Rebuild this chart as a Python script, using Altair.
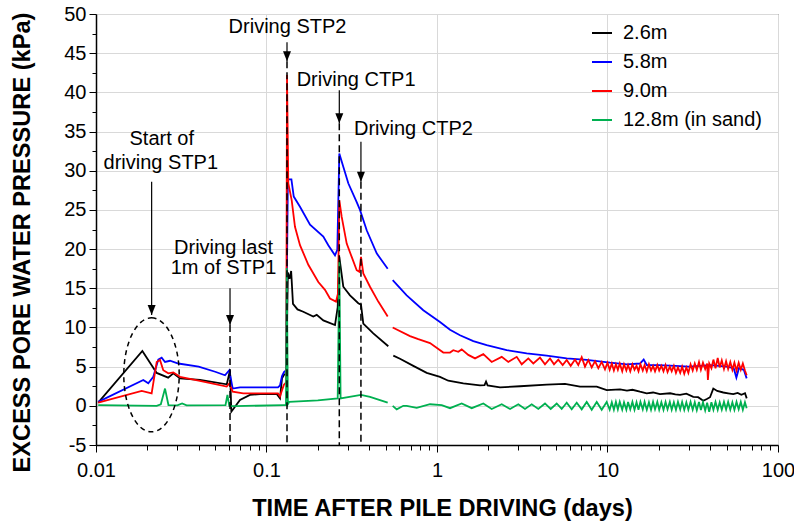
import altair as alt
import pandas as pd

FONT = "Liberation Sans"

series_names = ["2.6m", "5.8m", "9.0m", "12.8m (in sand)"]
series_colors = ["#000000", "#0000FF", "#FF0000", "#00B050"]

# ---------------- series data: (days, kPa) ----------------
black_a = [(0.0103, 0.4), (0.0187, 7.0), (0.0227, 4.2), (0.0265, 3.6), (0.0284, 4.15),
           (0.0311, 3.5), (0.0407, 3.3), (0.0585, 2.75), (0.0611, 4.55), (0.0622, -0.75),
           (0.0699, 0.75), (0.0800, 1.4), (0.0916, 1.5), (0.1148, 1.5), (0.1200, 0.95),
           (0.1233, 3.5), (0.1270, 4.0), (0.1305, 4.0), (0.1335, 17.0), (0.1365, 16.2),
           (0.1395, 17.2), (0.1430, 13.0), (0.1520, 12.3), (0.1643, 12.0), (0.1881, 11.4),
           (0.1970, 11.6), (0.2154, 10.9), (0.2522, 10.3), (0.2616, 12.6), (0.2673, 19.0),
           (0.2821, 15.2), (0.3088, 14.1), (0.3454, 13.1), (0.3584, 12.9), (0.3696, 10.5),
           (0.4230, 9.25), (0.5180, 7.6)]
black_b = [(0.5543, 6.4), (0.6067, 6.0), (0.7262, 5.1), (0.8702, 4.2), (1.041, 3.7),
           (1.165, 3.2), (1.427, 2.87), (1.787, 2.6), (1.900, 2.65), (1.939, 3.1),
           (1.980, 2.6), (2.342, 2.35), (3.068, 2.5), (4.400, 2.7), (5.633, 2.8),
           (6.899, 2.45), (8.645, 2.45), (9.892, 2.0), (11.84, 2.1), (13.0, 1.95),
           (14.0, 2.05), (15.5, 1.8), (16.98, 1.6), (18.5, 1.7), (20.3, 1.5), (23.3, 1.6),
           (25.0, 1.45), (26.62, 1.4), (29.0, 1.55), (31.85, 1.15), (34.0, 1.1),
           (36.47, 0.65), (38.5, 0.9), (39.93, 1.1), (41.74, 2.2), (44.0, 1.9),
           (47.77, 1.7), (51.0, 1.6), (54.68, 1.5), (58.0, 1.65), (61.0, 1.4),
           (64.06, 1.6), (65.54, 0.95)]

blue_a = [(0.0103, 0.5), (0.01894, 3.3), (0.02026, 2.87), (0.02168, 3.7), (0.02319, 5.9),
          (0.02428, 6.15), (0.0254, 5.6), (0.02716, 5.75), (0.03039, 5.4), (0.0400, 5.0),
          (0.0500, 4.35), (0.0571, 3.9), (0.0605, 4.55), (0.06336, 2.2), (0.06993, 2.35),
          (0.1168, 2.35), (0.1200, 2.6), (0.1233, 3.8), (0.1266, 4.3), (0.1300, 4.5),
          (0.1335, 28.9), (0.1400, 28.9), (0.1445, 26.7), (0.1572, 25.4), (0.1800, 23.1),
          (0.2154, 21.6), (0.2304, 20.5), (0.2522, 19.2), (0.2602, 19.9), (0.2673, 32.2),
          (0.2821, 30.5), (0.3018, 28.4), (0.3381, 26.0), (0.3534, 25.0), (0.3870, 22.4),
          (0.4429, 19.45), (0.5139, 17.5)]
blue_b = [(0.5497, 16.05), (0.6642, 14.1), (0.831, 12.2), (1.041, 10.7), (1.192, 9.7),
          (1.364, 9.0), (1.633, 8.25), (1.956, 7.75), (2.564, 7.1), (3.358, 6.7),
          (4.40, 6.4), (5.764, 6.05), (7.551, 5.85), (10.34, 5.5), (13.0, 5.3),
          (15.5, 5.4), (16.3, 5.9), (17.0, 5.2), (20.0, 5.2), (25.0, 5.1), (30.0, 5.0),
          (35.0, 5.1), (40.0, 5.2), (45.0, 5.1), (50.0, 5.0), (55.0, 4.8), (57.0, 3.6),
          (59.0, 4.8), (63.0, 4.6), (65.5, 3.5)]

red_a = [(0.0103, 0.4), (0.01854, 1.9), (0.0212, 1.6), (0.0227, 5.6), (0.02373, 5.85),
         (0.02481, 4.55), (0.02655, 4.15), (0.0284, 4.27), (0.0311, 3.7), (0.0400, 3.2),
         (0.05843, 2.45), (0.0605, 2.85), (0.06336, 1.8), (0.0731, 1.6), (0.1168, 1.6),
         (0.1200, 1.2), (0.1233, 2.0), (0.1266, 2.7), (0.1305, 3.0), (0.1319, 42.2),
         (0.1342, 28.4), (0.1405, 26.25), (0.1469, 22.85), (0.1572, 20.5), (0.1759, 18.0),
         (0.2013, 15.8), (0.2203, 14.8), (0.2357, 13.7), (0.2556, 13.3), (0.2626, 14.35),
         (0.2673, 26.25), (0.2761, 24.1), (0.2954, 20.7), (0.3160, 19.0), (0.3381, 17.3),
         (0.3502, 17.1), (0.3584, 19.0), (0.3696, 16.9), (0.4046, 15.2), (0.4524, 13.3),
         (0.5139, 11.4)]
red_b = [(0.5497, 10.0), (0.6946, 8.9), (0.7768, 8.5), (0.9099, 8.0), (1.089, 6.8),
         (1.192, 6.8), (1.246, 7.1), (1.333, 6.9), (1.396, 7.2), (1.526, 6.5),
         (1.671, 6.05), (1.869, 6.6), (2.093, 5.6), (2.396, 6.25), (2.62, 5.6),
         (2.935, 6.25), (3.14, 5.3), (3.432, 6.05), (3.672, 5.4), (4.019, 6.15),
         (4.299, 5.3), (4.6, 6.05), (4.856, 5.3), (5.145, 5.9), (5.46, 5.2),
         (5.764, 5.85), (6.084, 5.1), (6.448, 5.9), (6.74, 5.2), (7.058, 6.2),
         (7.38, 5.0), (7.716, 5.85), (8.08, 4.9), (8.45, 5.7), (8.836, 4.8),
         (9.247, 5.6), (9.667, 4.65), (10.0, 5.5), (10.3, 4.6), (10.6, 5.4),
         (10.9, 4.5), (11.2, 5.3), (11.5, 4.6), (11.8, 5.4), (12.2, 4.4), (12.5, 5.3),
         (12.9, 4.5), (13.2, 5.2), (13.6, 4.4), (14.0, 5.3), (14.4, 4.6), (14.8, 5.1),
         (15.2, 4.4), (15.6, 5.3), (16.1, 4.5), (16.5, 5.2), (17.0, 4.4), (17.5, 5.3),
         (18.0, 4.5), (18.5, 5.1), (19.0, 4.4), (19.6, 5.2), (20.1, 4.5), (20.7, 5.1),
         (21.3, 4.4), (21.9, 5.2), (22.5, 4.3), (23.2, 5.0), (23.8, 4.4), (24.5, 5.1),
         (25.2, 4.2), (25.9, 4.9), (26.7, 4.2), (27.4, 5.0), (28.2, 4.1), (29.0, 4.9),
         (29.8, 4.2), (30.7, 5.3), (31.6, 4.5), (32.5, 5.4), (33.4, 4.6), (34.4, 5.6),
         (35.3, 4.6), (36.3, 5.5), (37.4, 4.7), (38.4, 5.4), (38.8, 3.3), (39.5, 5.4),
         (40.7, 4.8), (41.8, 5.9), (43.0, 4.8), (44.3, 6.1), (45.5, 4.9), (46.8, 5.8),
         (48.2, 4.7), (49.6, 5.7), (51.0, 4.7), (52.5, 5.6), (54.0, 4.6), (55.5, 5.5),
         (57.1, 4.5), (58.8, 5.5), (60.5, 4.6), (62.2, 5.4), (64.0, 4.5), (65.5, 3.9)]

green_a = [(0.0103, 0.1), (0.0227, 0.0), (0.0240, 0.2), (0.0254, 2.2), (0.0266, 0.1),
           (0.0300, 0.05), (0.0320, 0.3), (0.0340, 0.05), (0.0575, 0.1), (0.0590, 1.4),
           (0.0605, 0.0), (0.0650, -0.05), (0.1266, 0.1), (0.1301, 0.1), (0.1315, 17.6),
           (0.1335, 0.2), (0.1360, 0.5), (0.2000, 0.7), (0.2616, 0.95), (0.2673, 18.4),
           (0.2720, 0.95), (0.3584, 1.4), (0.4046, 1.15), (0.5139, 0.4)]
green_b = [(0.5497, 0.0), (0.5804, -0.45), (0.6342, 0.0), (0.6642, 0.0), (0.7603, -0.25),
           (0.9099, 0.2), (1.066, 0.1), (1.192, -0.3), (1.396, 0.3), (1.598, -0.3),
           (1.869, 0.3), (2.093, -0.4), (2.396, 0.2), (2.681, -0.4), (2.999, 0.2),
           (3.282, -0.4), (3.593, 0.2), (3.928, -0.4), (4.299, 0.3), (4.644, -0.4),
           (5.035, 0.3), (5.387, -0.4), (5.764, 0.4), (6.166, -0.45), (6.598, 0.4),
           (7.058, -0.45), (7.551, 0.5), (8.08, -0.5), (8.645, 0.5), (9.247, -0.5),
           (9.892, 0.5), (10.3, -0.5), (10.6, 0.45), (10.9, -0.5), (11.2, 0.5),
           (11.5, -0.45), (11.8, 0.5), (12.2, -0.5), (12.5, 0.45), (12.9, -0.5),
           (13.2, 0.5), (13.6, -0.45), (14.0, 0.5), (14.4, -0.5), (14.8, 0.45),
           (15.2, -0.5), (15.6, 0.5), (16.1, -0.45), (16.5, 0.5), (17.0, -0.5),
           (17.5, 0.45), (18.0, -0.5), (18.5, 0.5), (19.0, -0.45), (19.6, 0.5),
           (20.1, -0.5), (20.7, 0.45), (21.3, -0.5), (21.9, 0.5), (22.5, -0.45),
           (23.2, 0.5), (23.8, -0.5), (24.5, 0.45), (25.2, -0.5), (25.9, 0.5),
           (26.7, -0.45), (27.4, 0.5), (28.2, -0.5), (29.0, 0.45), (29.8, -0.5),
           (30.7, 0.5), (31.6, -0.5), (32.5, 0.45), (33.4, -0.55), (34.4, 0.5),
           (35.3, -0.55), (36.3, 0.45), (37.4, -0.6), (38.4, 0.4), (39.5, -0.75),
           (40.7, 0.45), (41.8, -0.5), (43.0, 0.5), (44.3, -0.5), (45.5, 0.45),
           (46.8, -0.5), (48.2, 0.5), (49.6, -0.45), (51.0, 0.5), (52.5, -0.5),
           (54.0, 0.45), (55.5, -0.5), (57.1, 0.5), (58.8, -0.45), (60.5, 0.5),
           (62.2, -0.5), (64.0, 0.45), (65.5, -0.3)]

# ---------------- annotations ----------------
# dashed event lines: (days, top kPa)
event_lines = [(0.0611, 10.3), (0.1319, 43.98), (0.2673, 36.07), (0.358, 28.58)]
# arrows: (days, shaft top kPa, tip kPa)
arrows = [(0.0212, 28.58, 11.6), (0.0611, 15.0, 10.3), (0.1319, 46.4, 43.98),
          (0.2673, 40.28, 36.07), (0.358, 33.69, 28.58)]
labels_center = [("Driving STP2", 0.1328, 48.35), ("Start of", 0.0243, 34.0),
                 ("driving STP1", 0.0240, 30.95), ("Driving last", 0.05595, 20.13),
                 ("1m of STP1", 0.05595, 17.58)]
labels_left = [("Driving CTP1", 0.1503, 41.56), ("Driving CTP2", 0.3259, 35.3)]
ellipse_center = [(0.02116, 3.95)]

x_major = [0.01, 0.1, 1, 10, 100]
x_minor_mult = [2, 3, 4, 5, 6, 7, 8, 9]
x_ticks = sorted(x_major + [round(d * m, 6) for d in x_major[:-1] for m in x_minor_mult])
y_ticks = [-5, -2.5, 0, 2.5, 5, 7.5, 10, 12.5, 15, 17.5, 20, 22.5, 25, 27.5, 30,
           32.5, 35, 37.5, 40, 42.5, 45, 47.5, 50]

# ---------------- tables ----------------
rows = []
for name, segs in [("2.6m", [black_a, black_b]), ("5.8m", [blue_a, blue_b]),
                   ("9.0m", [red_a, red_b]), ("12.8m (in sand)", [green_a, green_b])]:
    for si, seg in enumerate(segs):
        for t, u in seg:
            rows.append({"series": name, "seg": si, "t": t, "u": u})
df = pd.DataFrame(rows)

vl_df = pd.DataFrame([{"t": t, "u": top, "u2": -5} for t, top in event_lines])
shaft_df = pd.DataFrame([{"t": t, "u": top, "u2": tip} for t, top, tip in arrows])
head_df = pd.DataFrame([{"t": t, "u": tip} for t, top, tip in arrows])
lc_df = pd.DataFrame([{"label": s, "t": t, "u": u} for s, t, u in labels_center])
ll_df = pd.DataFrame([{"label": s, "t": t, "u": u} for s, t, u in labels_left])
el_df = pd.DataFrame([{"t": t, "u": u} for t, u in ellipse_center])

# ---------------- encodings ----------------
is_decade = "abs(log(datum.value)/LN10 - round(log(datum.value)/LN10)) < 0.001"
x_axis = alt.Axis(
    values=x_ticks, title="TIME AFTER PILE DRIVING (days)",
    labelExpr=f"{is_decade} ? format(datum.value, '~g') : ''",
    gridOpacity={"condition": {"test": is_decade, "value": 1}, "value": 0},
    tickSize={"condition": {"test": is_decade, "value": 7}, "value": 5},
    labelPadding=8, labelOverlap=False, labelFlush=False,
    titleX=346, titleY=63, titleBaseline="middle", titleAlign="center",
)
is_major_y = "datum.value % 5 === 0"
y_axis = alt.Axis(
    values=y_ticks, title="EXCESS PORE WATER PRESSURE (kPa)",
    labelExpr=f"{is_major_y} ? (datum.value < 0 ? '-' + format(-datum.value, 'd') : format(datum.value, 'd')) : ''",
    gridOpacity={"condition": {"test": is_major_y, "value": 1}, "value": 0},
    tickSize={"condition": {"test": is_major_y, "value": 7}, "value": 4},
    labelPadding=3, labelOverlap=False, labelFlush=False,
    titleX=-74, titleY=228, titleAngle=270, titleBaseline="middle", titleAlign="center",
)
X = alt.X("t:Q", scale=alt.Scale(type="log", domain=[0.01, 100], nice=False), axis=x_axis)
Y = alt.Y("u:Q", scale=alt.Scale(domain=[-5, 50], nice=False), axis=y_axis)

legend = alt.Legend(title=None, orient="none", legendX=495, legendY=8,
                    symbolType="stroke", symbolSize=400, symbolStrokeWidth=2,
                    labelFont=FONT, labelFontSize=20, labelColor="black",
                    labelOffset=10, rowPadding=8, padding=0, labelLimit=400)
color = alt.Color("series:N", scale=alt.Scale(domain=series_names, range=series_colors),
                  legend=legend)

layers = []
for name in series_names:
    layers.append(
        alt.Chart(df).transform_filter(alt.datum.series == name)
        .mark_line(strokeWidth=1.8)
        .encode(x=X, y=Y, color=color, detail="seg:N")
    )

ARROW = "M -0.4,-1 L 0.4,-1 L 0,0 Z"
ELLIPSE = ("M 0,-1 C 0.2684,-1 0.486,-0.5523 0.486,0 C 0.486,0.5523 0.2684,1 0,1 "
           "C -0.2684,1 -0.486,0.5523 -0.486,0 C -0.486,-0.5523 -0.2684,-1 0,-1 Z")

layers.append(alt.Chart(vl_df).mark_rule(color="black", strokeWidth=1.5, strokeDash=[7, 4])
              .encode(x=X, y=Y, y2="u2:Q"))
layers.append(alt.Chart(shaft_df).mark_rule(color="black", strokeWidth=1.2)
              .encode(x=X, y=Y, y2="u2:Q"))
layers.append(alt.Chart(head_df).mark_point(shape=ARROW, size=400, filled=True,
                                            color="black", opacity=1, strokeWidth=0)
              .encode(x=X, y=Y))
layers.append(alt.Chart(el_df).mark_point(shape=ELLIPSE, size=12996, filled=False,
                                          color="black", opacity=1, strokeWidth=1.5,
                                          strokeDash=[5, 4])
              .encode(x=X, y=Y))
layers.append(alt.Chart(lc_df).mark_text(font=FONT, fontSize=20, align="center",
                                         baseline="middle", color="black")
              .encode(x=X, y=Y, text="label:N"))
layers.append(alt.Chart(ll_df).mark_text(font=FONT, fontSize=20, align="left",
                                         baseline="middle", color="black")
              .encode(x=X, y=Y, text="label:N"))

chart = (
    alt.layer(*layers)
    .properties(width=682, height=431,
                padding={"left": 96, "top": 14, "right": 16, "bottom": 77},
                autosize=alt.AutoSizeParams(type="none"),
                background="white")
    .configure_axis(labelFont=FONT, labelFontSize=20, labelColor="black",
                    titleFont=FONT, titleFontSize=23.6, titleFontWeight="bold",
                    titleColor="black", domainColor="black", domainWidth=1.5,
                    tickColor="black", tickWidth=1, gridColor="#d9d9d9", gridWidth=1)
    .configure_view(stroke="#404040", strokeWidth=1)
)

chart.save("out.html", embed_options={"renderer": "svg", "actions": False})
